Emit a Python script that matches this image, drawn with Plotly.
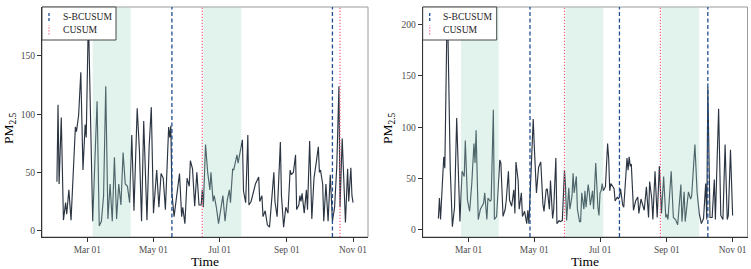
import pandas as pd
import plotly.graph_objects as go

start_date = pd.Timestamp("2021-02-01")

# ---- left panel series (day offset from Feb 01, PM2.5) ----
left_day = [0, 1, 2, 4, 6, 8, 9, 11, 13, 15, 17, 18, 20, 22, 24, 26, 27, 29, 33, 35, 37, 39, 41, 43, 45, 47,
            49, 51, 53, 55, 57, 59, 61, 63, 65, 67, 69, 71, 74, 76, 78, 80, 83, 85,
            87, 89, 92, 94, 96, 98, 100, 103, 104, 105, 106, 108, 110, 113, 115, 116, 118, 120, 122, 123,
            125, 127, 129, 131, 133, 134, 135, 137, 139, 141, 142, 144, 145, 147, 149, 151, 153, 155, 157,
            159, 160, 162, 163, 165, 166, 167, 168, 171, 172, 174, 176, 177,
            179, 181, 183, 186, 187, 189, 190, 192, 194, 196, 198, 200, 201, 203, 206, 207, 209, 211, 213,
            215, 216, 218, 220, 221, 223, 224, 225, 226, 228, 230, 231, 233, 235, 237, 239, 241, 242, 243,
            245, 246, 248, 250, 252, 254, 256, 258, 260, 261, 263, 264, 266, 268, 269, 271, 272, 273]
left_pm = [42, 108, 40, 97, 9, 24, 14, 35, 9, 52, 89, 85, 99, 136, 52, 91, 80, 185, 8, 60, 111, 4, 8, 30, 124, 10,
           40, 8, 63, 10, 40, 22, 67, 40, 38, 24, 82, 17, 105, 70, 8, 94, 9, 72,
           106, 15, 52, 20, 49, 45, 18, 89, 80, 90, 32, 12, 27, 49, 12, 20, 6, 45, 38, 60,
           53, 21, 50, 22, 22, 35, 20, 74, 50, 35, 50, 25, 30, 20, 6, 20, 30, 8, 26,
           35, 24, 53, 52, 61, 65, 58, 63, 78, 34, 24, 82, 22,
           25, 33, 40, 46, 25, 30, 12, 17, 5, 3, 25, 50, 25, 12, 76, 30, 3, 20, 15,
           52, 48, 50, 65, 18, 22, 30, 25, 32, 15, 35, 18, 77, 10, 45, 58, 72, 50, 52,
           40, 8, 40, 8, 48, 8, 20, 55, 124, 20, 79, 55, 7, 53, 25, 54, 30, 24]

# ---- right panel series ----
right_day = [0, 1, 2, 5, 6, 7, 8, 9, 11, 13, 15, 17, 19, 20, 22, 24, 25, 27, 29, 31, 33, 34, 35, 37, 39, 42,
             43, 45, 46, 48, 49, 51, 52, 54, 57, 58, 60, 62, 63, 65, 66, 68, 70, 71, 72, 74, 75, 77, 78,
             80, 82, 83, 84,
             86, 88, 89, 91, 93, 95, 97, 98, 100, 101, 103, 104, 106, 107, 109, 110, 112, 113, 115, 117,
             118, 119, 121, 122, 124, 125, 126, 128, 129, 131, 132, 133, 135, 136, 137, 139, 140, 141, 143,
             144, 146, 147, 148, 149, 150, 151, 152, 153, 155, 157, 158, 159, 160, 162, 163, 164, 166, 167,
             168, 169, 171, 172, 174, 175, 176,
             177, 178, 179, 181, 183, 185, 186, 188, 189, 191, 193, 195, 196, 198, 199, 201, 203, 205, 207,
             209, 211, 212, 213, 216, 218, 220, 222, 225, 226, 228, 229, 232, 234, 235, 238, 240, 242, 244,
             246, 248, 249, 250, 252, 254, 256, 257, 260, 262, 264, 266, 268, 269, 271, 273]
right_pm = [11, 31, 10, 71, 60, 122, 205, 185, 60, 3, 22, 109, 40, 8, 57, 52, 87, 29, 18, 45, 84, 65, 97, 10, 20, 26,
            36, 10, 31, 28, 29, 117, 10, 13, 68, 65, 13, 20, 29, 57, 29, 23, 39, 16, 66, 48, 20, 36, 13,
            18, 6, 19, 6,
            58, 108, 81, 36, 61, 66, 25, 18, 39, 40, 20, 48, 11, 20, 70, 6, 9, 8, 9, 58,
            42, 9, 41, 20, 33, 55, 36, 52, 20, 8, 8, 36, 20, 38, 22, 44, 36, 24, 38,
            20, 65, 38, 22, 14, 36, 38, 45, 38, 42, 84, 70, 38, 45, 42, 40, 28, 32, 30,
            32, 40, 24, 22, 62, 70, 58,
            71, 62, 64, 19, 28, 32, 16, 30, 26, 19, 42, 12, 47, 30, 10, 57, 12, 62, 16,
            52, 12, 15, 10, 57, 12, 10, 5, 44, 8, 37, 8, 37, 30, 33, 83, 37, 16, 6,
            11, 45, 10, 139, 12, 12, 49, 10, 118, 14, 10, 83, 10, 14, 78, 14]

# ---- change points and detected segments ----
left_shade_from = ["2021-03-06", "2021-06-16"]
left_shade_to = ["2021-04-10", "2021-07-21"]
left_sbcusum = ["2021-05-18", "2021-10-13"]
left_cusum = ["2021-06-15", "2021-10-20"]

right_shade_from = ["2021-02-22", "2021-05-30", "2021-08-27"]
right_shade_to = ["2021-03-29", "2021-07-04", "2021-10-01"]
right_sbcusum = ["2021-04-27", "2021-07-19", "2021-10-09"]
right_cusum = ["2021-05-29", "2021-08-26"]

x_tick_dates = ["2021-03-01", "2021-05-01", "2021-07-01", "2021-09-01", "2021-11-01"]
x_tick_labels = ["Mar 01", "May 01", "Jul 01", "Sep 01", "Nov 01"]
left_y_ticks = [0, 50, 100, 150]
right_y_ticks = [0, 50, 100, 150, 200]
legend_labels = ["S-BCUSUM", "CUSUM"]

# ---- styling ----
FONT = "Liberation Serif"
W, H = 751, 269
LINE_COL = "#2b3542"
BLUE = "#1f4e92"
PINK = "#f2607e"
SHADE = "rgba(160,215,200,0.30)"

left_dates = start_date + pd.to_timedelta(left_day, unit="D")
right_dates = start_date + pd.to_timedelta(right_day, unit="D")

fig = go.Figure()
fig.add_trace(go.Scatter(x=left_dates, y=left_pm, mode="lines",
                         line=dict(color=LINE_COL, width=1.15), xaxis="x", yaxis="y", showlegend=False))
fig.add_trace(go.Scatter(x=right_dates, y=right_pm, mode="lines",
                         line=dict(color=LINE_COL, width=1.15), xaxis="x2", yaxis="y2", showlegend=False))

panels = [
    dict(xa="x", ya="y", px0=42, px1=368, shade=(left_shade_from, left_shade_to),
         sb=left_sbcusum, cu=left_cusum, ylab_x=9),
    dict(xa="x2", ya="y2", px0=422.7, px1=747.5, shade=(right_shade_from, right_shade_to),
         sb=right_sbcusum, cu=right_cusum, ylab_x=388),
]

shapes = []
annotations = []
for p in panels:
    xa, ya = p["xa"], p["ya"]
    # frame (gray) below traces
    shapes.append(dict(type="rect", xref=f"{xa} domain", yref=f"{ya} domain", x0=0, x1=1, y0=0, y1=1,
                       line=dict(color="#9a9a9a", width=1), layer="below"))
    for a, b in zip(*p["shade"]):
        shapes.append(dict(type="rect", xref=xa, yref=f"{ya} domain", x0=a, x1=b, y0=0, y1=1,
                           fillcolor=SHADE, line=dict(width=0), layer="above"))
    for d in p["sb"]:
        shapes.append(dict(type="line", xref=xa, yref=f"{ya} domain", x0=d, x1=d, y0=0, y1=1,
                           line=dict(color=BLUE, width=1.3, dash="4px,2.5px"), layer="above"))
    for d in p["cu"]:
        shapes.append(dict(type="line", xref=xa, yref=f"{ya} domain", x0=d, x1=d, y0=0, y1=1,
                           line=dict(color=PINK, width=1.2, dash="1.2px,1.8px"), layer="above"))
    # legend box
    lx0 = p["px0"]
    shapes.append(dict(type="rect", xref="paper", yref="paper", x0=lx0 / W, x1=(lx0 + 74) / W,
                       y0=1 - 40 / H, y1=1 - 7 / H, fillcolor="white",
                       line=dict(color="#333333", width=0.9), layer="above"))
    sx = (lx0 + 7) / W
    shapes.append(dict(type="line", xref="paper", yref="paper", x0=sx, x1=sx,
                       y0=1 - 21 / H, y1=1 - 11.5 / H,
                       line=dict(color=BLUE, width=1.3, dash="3px,2px"), layer="above"))
    shapes.append(dict(type="line", xref="paper", yref="paper", x0=sx, x1=sx,
                       y0=1 - 34.5 / H, y1=1 - 25 / H,
                       line=dict(color=PINK, width=1.2, dash="1.2px,1.8px"), layer="above"))
    for lab, cy in zip(legend_labels, [16.8, 29.5]):
        annotations.append(dict(xref="paper", yref="paper", x=(lx0 + 18.5) / W, y=1 - cy / H,
                                text=lab, showarrow=False, xanchor="left", yanchor="middle",
                                font=dict(family=FONT, size=9.6, color="#1a1a1a")))
    # axis titles
    annotations.append(dict(xref="paper", yref="paper", x=(p["px0"] + p["px1"]) / 2 / W, y=1 - 261.5 / H,
                            text="Time", showarrow=False, xanchor="center", yanchor="middle",
                            font=dict(family=FONT, size=13.5, color="black")))
    annotations.append(dict(xref="paper", yref="paper", x=p["ylab_x"] / W, y=1 - 128 / H,
                            text="PM<sub>2.5</sub>", showarrow=False, textangle=-90,
                            xanchor="center", yanchor="middle",
                            font=dict(family=FONT, size=13.5, color="black")))

xaxis_common = dict(type="date", tickmode="array", tickvals=x_tick_dates, ticktext=x_tick_labels,
                    showgrid=False, zeroline=False, showline=True, linecolor="#333333", linewidth=1,
                    ticks="outside", ticklen=3.5, tickcolor="#333333", tickwidth=1,
                    tickfont=dict(family=FONT, size=9.4, color="#4d4d4d"))
yaxis_common = dict(tickmode="array", showgrid=False, zeroline=False, showline=True,
                    linecolor="#333333", linewidth=1, ticks="outside", ticklen=4,
                    tickcolor="#333333", tickwidth=1,
                    tickfont=dict(family=FONT, size=9.6, color="#4d4d4d"))

ydom = [1 - 237 / H, 1 - 7 / H]
fig.update_layout(
    width=W, height=H, margin=dict(l=0, r=0, t=0, b=0),
    paper_bgcolor="white", plot_bgcolor="white", showlegend=False,
    xaxis=dict(**xaxis_common, domain=[42 / W, 368 / W],
               range=["2021-01-18 05:30", "2021-11-14 19:00"], anchor="y"),
    yaxis=dict(**yaxis_common, domain=ydom, range=[-5.5, 192], tickvals=left_y_ticks, anchor="x"),
    xaxis2=dict(**xaxis_common, domain=[422.7 / W, 747.5 / W],
                range=["2021-01-17 11:15", "2021-11-14 19:00"], anchor="y2"),
    yaxis2=dict(**yaxis_common, domain=ydom, range=[-7, 217], tickvals=right_y_ticks, anchor="x2"),
    shapes=shapes, annotations=annotations,
)

fig.write_html("out.html", config={"displayModeBar": False},
               post_script="document.body.style.margin='0';document.body.style.overflow='hidden';")
